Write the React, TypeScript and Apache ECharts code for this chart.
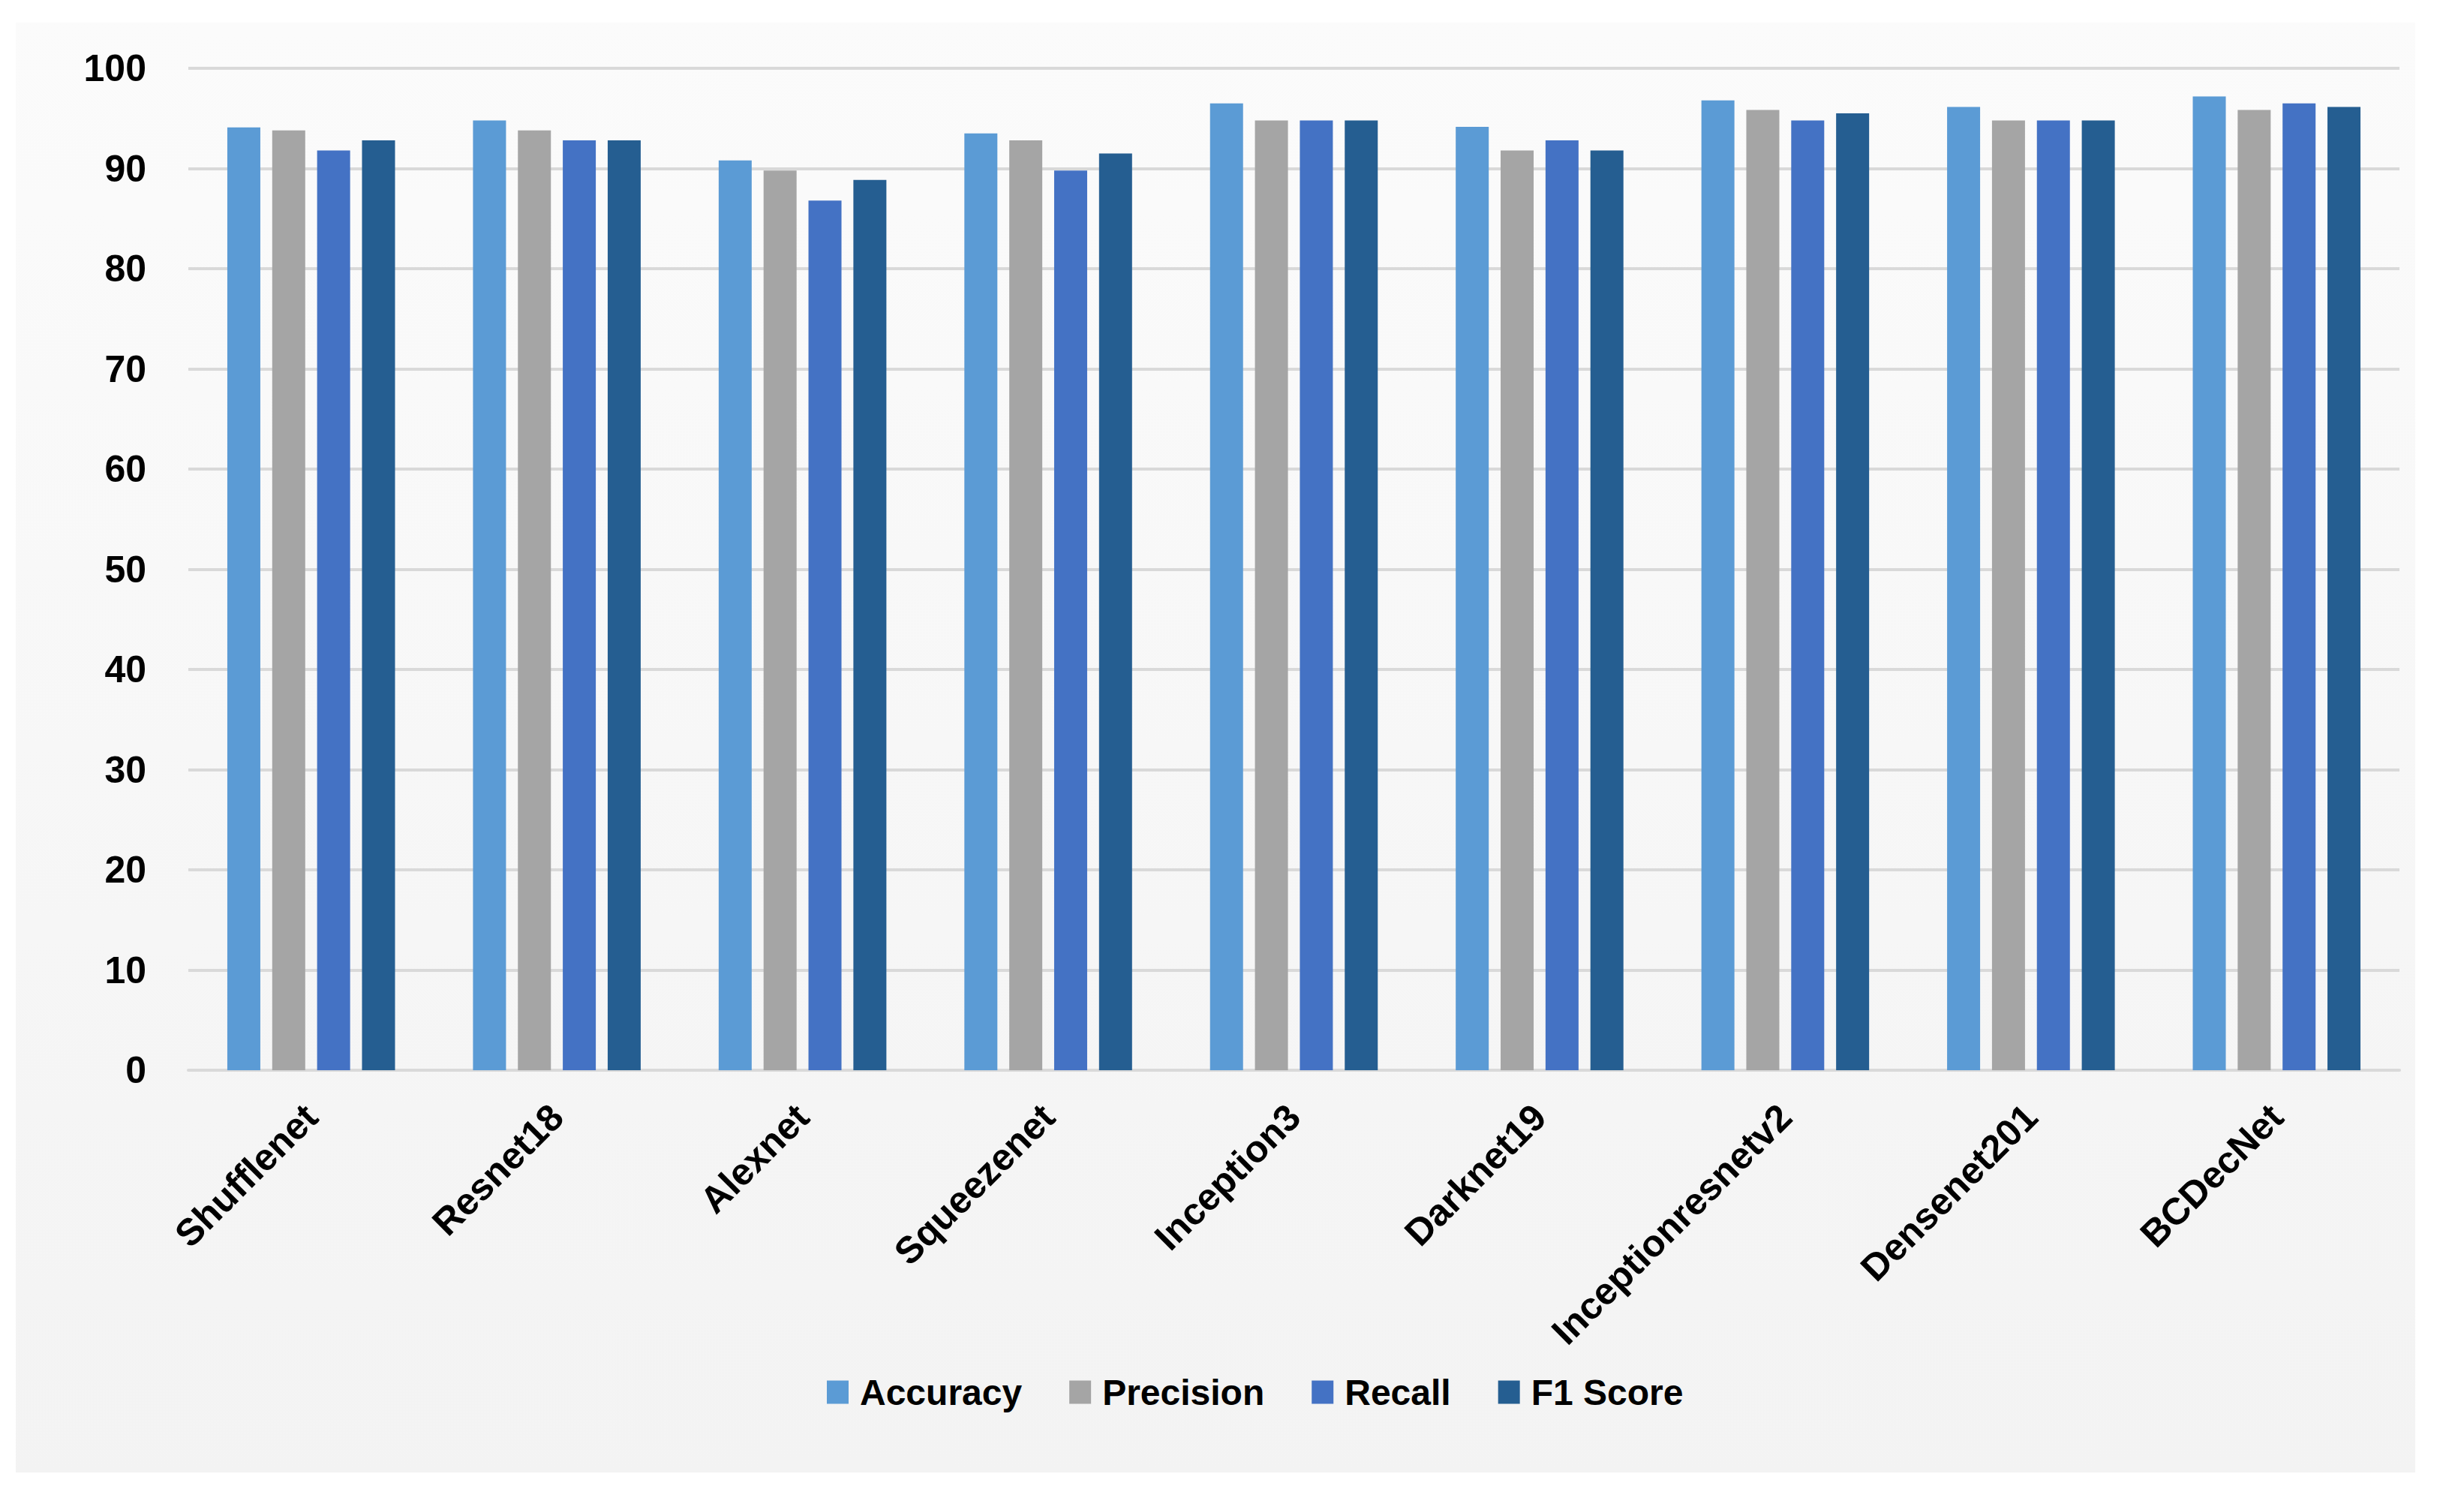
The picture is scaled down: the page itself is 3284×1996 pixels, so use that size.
import React, { useEffect, useRef } from "react";
import * as echarts from "echarts";

const categories = [
  "Shufflenet",
  "Resnet18",
  "Alexnet",
  "Squeezenet",
  "Inception3",
  "Darknet19",
  "Inceptionresnetv2",
  "Densenet201",
  "BCDecNet",
];
const accuracy = [94.1, 94.8, 90.8, 93.5, 96.5, 94.15, 96.8, 96.15, 97.2];
const precision = [93.8, 93.8, 89.8, 92.8, 94.8, 91.8, 95.85, 94.8, 95.85];
const recall = [91.8, 92.8, 86.8, 89.8, 94.8, 92.8, 94.8, 94.8, 96.5];
const f1Score = [92.8, 92.8, 88.85, 91.5, 94.8, 91.8, 95.5, 94.8, 96.15];
const seriesNames = ["Accuracy", "Precision", "Recall", "F1 Score"];
const seriesColors = ["#5b9bd5", "#a5a5a5", "#4472c4", "#255e91"];

const FONT = "'Liberation Sans', Arial, sans-serif";

export default function App() {
  const ref = useRef<HTMLDivElement>(null);
  useEffect(() => {
    if (!ref.current) return;
    const chart = echarts.init(ref.current, undefined, { renderer: "svg" });
    const values = [accuracy, precision, recall, f1Score];
    chart.setOption({
      animation: false,
      grid: { left: 251, right: 86, top: 91, bottom: 570, containLabel: false },
      legend: {
        left: 1097,
        top: 1826,
        itemWidth: 29,
        itemHeight: 31,
        itemGap: 63,
        icon: "rect",
        data: seriesNames,
        textStyle: {
          fontFamily: FONT,
          fontWeight: "bold",
          fontSize: 48,
          color: "#000",
          padding: [0, 0, 0, 10],
        },
      },
      xAxis: {
        type: "category",
        data: categories,
        axisLine: { show: true, lineStyle: { color: "#d9d9d9", width: 4 } },
        axisTick: { show: false },
        axisLabel: {
          interval: 0,
          rotate: 45,
          margin: 54,
          fontFamily: FONT,
          fontWeight: "bold",
          fontSize: 50,
          color: "#000",
        },
      },
      yAxis: {
        type: "value",
        min: 0,
        max: 100,
        interval: 10,
        axisLine: { show: false },
        axisTick: { show: false },
        splitLine: { show: true, lineStyle: { color: "#d9d9d9", width: 4 } },
        axisLabel: {
          margin: 56,
          fontFamily: FONT,
          fontWeight: "bold",
          fontSize: 50,
          color: "#000",
        },
      },
      series: seriesNames.map((name, i) => ({
        name,
        type: "bar",
        data: values[i],
        barWidth: 44,
        barGap: "36%",
        itemStyle: { color: seriesColors[i] },
      })),
    });
    return () => chart.dispose();
  }, []);
  return (
    <div
      style={{
        position: "fixed",
        left: 0,
        top: 0,
        width: 3284,
        height: 1996,
        background: "#ffffff",
      }}
    >
      <div
        style={{
          position: "absolute",
          left: 21,
          top: 30,
          width: 3198,
          height: 1932,
          background: "linear-gradient(#fbfbfb, #f3f3f3)",
        }}
      />
      <div
        ref={ref}
        style={{ position: "absolute", left: 0, top: 0, width: 3284, height: 1996 }}
      />
    </div>
  );
}
